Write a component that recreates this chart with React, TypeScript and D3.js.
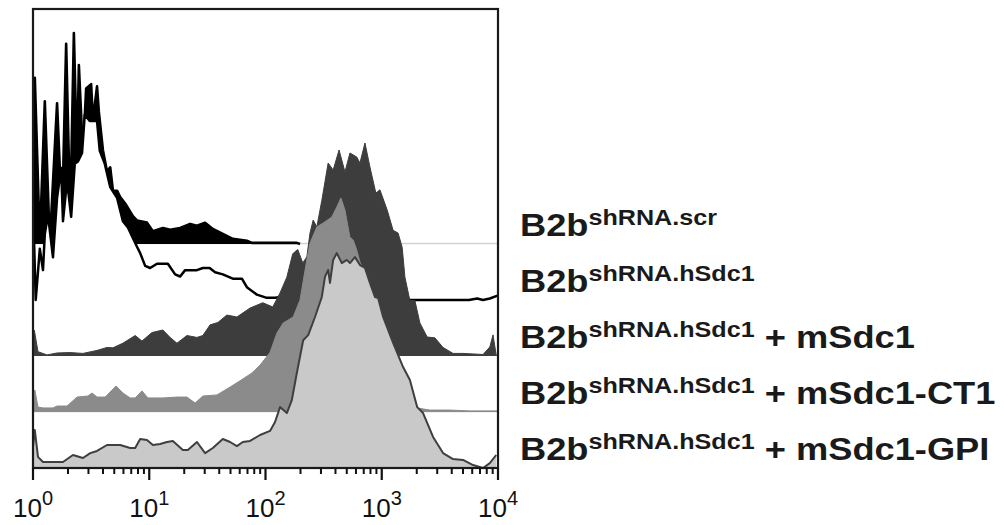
import React from 'react';
import * as d3 from 'd3';

type Pt = [number, number]; // [channel 0-1023 (4 decades), % of max]

const scrData: Pt[] = [
  [0, 0], [2, 40], [4, 78], [15, 1], [26, 67], [37, 0], [53, 66], [64, 11], [73, 94], [82, 12],
  [90, 99], [97, 39], [101, 84], [110, 42], [117, 73], [128, 75], [132, 58], [141, 74], [145, 62],
  [154, 44], [163, 34], [170, 36], [176, 25], [185, 25], [192, 22], [203, 19], [220, 13], [229, 11],
  [251, 10], [264, 6], [286, 7.5], [302, 6.6], [324, 7.5], [346, 9.4], [361, 8.5], [379, 9.9],
  [396, 7], [418, 4.7], [440, 2.4], [471, 1.5], [482, 0.5], [581, 0.5], [588, 0], [1023, 0],
];

const hSdc1Data: Pt[] = [
  [0, 45], [6, 0], [15, 24], [22, 14], [26, 31], [33, 40], [44, 20], [53, 48], [62, 62], [66, 37],
  [75, 56], [84, 39], [92, 64], [99, 65], [108, 69], [114, 87], [125, 84], [132, 84], [141, 84],
  [147, 70], [158, 64], [170, 53], [185, 48], [198, 37], [209, 34], [229, 25], [236, 22], [247, 16],
  [258, 15], [273, 17], [297, 17], [313, 12], [324, 11], [335, 14], [361, 14], [374, 15], [389, 15],
  [401, 13], [418, 12], [440, 10], [460, 10], [471, 6], [493, 2.5], [515, 1], [533, 1], [550, 1.5],
  [588, 3], [620, 6], [660, 7], [700, 6.5], [740, 5], [790, 2], [830, 0], [960, 0], [978, 0.7],
  [991, 0], [1006, 0.7], [1023, 2],
];

const mSdc1Data: Pt[] = [
  [0, 4], [3, 12], [11, 2], [31, 0.5], [53, 1.4], [81, 1.6], [110, 1.2], [141, 2.6], [163, 4],
  [176, 3.8], [198, 6], [225, 9.6], [240, 7], [262, 11], [286, 12.2], [302, 8.7], [317, 6],
  [339, 9.6], [361, 8.7], [374, 9.6], [390, 14.6], [407, 15.7], [427, 19.2], [449, 18.3],
  [478, 22.5], [506, 25], [528, 23], [544, 29.6], [559, 37], [572, 48], [583, 50], [594, 43.7],
  [603, 46.5], [610, 57.7], [617, 63.8], [625, 60.6], [636, 73], [650, 90.6], [661, 87.3],
  [674, 96.7], [687, 86.4], [698, 95.3], [713, 93.4], [720, 90.6], [731, 100], [742, 88.7],
  [755, 76.5], [764, 78], [780, 68.5], [793, 59], [804, 57.7], [813, 51], [819, 37], [830, 26],
  [841, 26], [852, 15.5], [868, 8.9], [885, 8.5], [903, 4], [925, 1.2], [947, 1.2], [991, 0.7],
  [1006, 4.2], [1013, 9.9], [1020, 0.5], [1023, 0],
];

const ct1Data: Pt[] = [
  [0, 3], [4, 10.3], [11, 2.3], [22, 1.9], [44, 1.9], [53, 2.8], [75, 2.8], [97, 7], [121, 7.5],
  [130, 8.9], [141, 7], [159, 7], [183, 12.2], [198, 8.9], [214, 6.6], [225, 6.6], [240, 9.9],
  [253, 6.6], [286, 6.6], [317, 7], [339, 7], [357, 4.2], [374, 7.5], [405, 8], [434, 11.7],
  [462, 15.5], [482, 18.3], [500, 22], [522, 28], [537, 37], [551, 41.8], [573, 44.6], [588, 52.6],
  [603, 71.4], [610, 79.3], [625, 86.9], [639, 88.7], [658, 91.5], [669, 96.2], [678, 100.5],
  [687, 94.8], [698, 82], [705, 80.8], [713, 76], [720, 70.4], [731, 64.3], [742, 57.3], [764, 38.5],
  [786, 24.4], [808, 12.7], [830, 5.6], [846, 1.9], [874, 0.9], [918, 0.9], [962, 0.5], [1023, 0.5],
];

const gpiData: Pt[] = [
  [0, 10], [4, 17.8], [11, 5.2], [22, 2.8], [66, 2.8], [88, 6.1], [110, 4.7], [126, 7], [141, 8],
  [163, 10.8], [192, 10.8], [214, 9.4], [225, 9.4], [236, 13.6], [251, 13.1], [264, 10.8],
  [280, 11.3], [295, 12.2], [308, 12.7], [330, 8.5], [341, 8.5], [361, 12.2], [379, 7], [396, 9.4],
  [418, 13.6], [434, 12.2], [449, 10.3], [462, 12.2], [478, 12.7], [500, 15.5], [522, 17.4],
  [533, 21.6], [544, 28.6], [559, 25.8], [570, 31.9], [581, 44.6], [595, 60], [606, 62.4],
  [621, 70.9], [636, 80.3], [643, 89.7], [650, 93], [654, 86.9], [661, 97.7], [669, 100.9],
  [680, 96.2], [691, 97.7], [698, 96.2], [709, 99], [720, 95.3], [731, 93.9], [742, 86.9],
  [753, 80.3], [760, 79.8], [771, 70.9], [793, 58.7], [815, 47.4], [830, 41.3], [846, 28.6],
  [859, 25.8], [881, 14.6], [903, 7], [925, 4.2], [947, 3.8], [969, 1.4], [991, 0], [1006, 2.3],
  [1020, 6.1],
];

const labelMain = 'B2b';
const labelSup = ['shRNA.scr', 'shRNA.hSdc1', 'shRNA.hSdc1', 'shRNA.hSdc1', 'shRNA.hSdc1'];
const labelSuffix = ['', '', ' + mSdc1', ' + mSdc1-CT1', ' + mSdc1-GPI'];
const decades = [0, 1, 2, 3, 4];

const FONT = '"Liberation Sans", Arial, Helvetica, sans-serif';

export default function App() {
  const left = 33, right = 498, top = 9, bottom = 468;
  const x = d3.scaleLog().domain([1, 1e4]).range([left, right]);
  const y = d3.scaleLinear().domain([0, 215.5]).range([bottom, top]);
  const step = 26.3;
  const chToVal = (ch: number) => Math.pow(10, ch / 256);

  const layers = [
    { data: scrData, fill: '#000', stroke: '#000', sw: 2.6, base: '#d2d2d2' },
    { data: hSdc1Data, fill: '#fff', stroke: '#000', sw: 2.5, base: null },
    { data: mSdc1Data, fill: '#3d3d3d', stroke: '#3d3d3d', sw: 1, base: null },
    { data: ct1Data, fill: '#8b8b8b', stroke: '#8b8b8b', sw: 1, base: '#c4c4c4' },
    { data: gpiData, fill: '#c9c9c9', stroke: '#3f3f3f', sw: 2, base: null },
  ];

  const minor = x.ticks().filter(v => Math.abs(Math.log10(v) - Math.round(Math.log10(v))) > 1e-6);

  return (
    <svg width={1004} height={525} style={{ position: 'absolute', left: 0, top: 0, background: '#fff' }}>
      <defs>
        <clipPath id="plot">
          <rect x={left} y={top} width={right - left} height={bottom - top} />
        </clipPath>
      </defs>
      <g clipPath="url(#plot)">
        {layers.map((l, i) => {
          const off = (4 - i) * step;
          const area = d3.area<Pt>()
            .x(d => x(chToVal(d[0])))
            .y0(y(off))
            .y1(d => y(off + d[1]));
          const line = d3.line<Pt>()
            .defined((d, j, arr) => d[1] > 0 || (j > 0 && arr[j - 1][1] > 0) || (j < arr.length - 1 && arr[j + 1][1] > 0))
            .x(d => x(chToVal(d[0])))
            .y(d => y(off + d[1]));
          return (
            <g key={i}>
              {l.base && (
                <line x1={left} x2={right} y1={y(off) - 0.5} y2={y(off) - 0.5} stroke={l.base} strokeWidth={1.5} />
              )}
              <path d={area(l.data) || ''} fill={l.fill} />
              <path d={line(l.data) || ''} fill="none" stroke={l.stroke} strokeWidth={l.sw} strokeLinejoin="round" />
            </g>
          );
        })}
      </g>

      <rect x={left} y={top} width={right - left} height={bottom - top} fill="none" stroke="#1a1a1a" strokeWidth={2.2} />

      {minor.map(v => (
        <line key={v} x1={x(v)} x2={x(v)} y1={bottom} y2={bottom + 6} stroke="#111" strokeWidth={2} />
      ))}
      {decades.map(k => (
        <line key={k} x1={x(10 ** k)} x2={x(10 ** k)} y1={bottom} y2={bottom + 12} stroke="#111" strokeWidth={2.2} />
      ))}
      {decades.map(k => (
        <text key={k} x={x(10 ** k)} y={517} textAnchor="middle" fontFamily={FONT} fontSize={26} fill="#111">
          10<tspan fontSize={20} dy={-12}>{k}</tspan>
        </text>
      ))}

      {labelSup.map((s, i) => {
        const off = (4 - i) * step;
        return (
          <g key={i} transform={`translate(520, ${y(off) - 8}) scale(1.17, 1)`}>
            <text fontFamily={FONT} fontWeight={700} fontSize={31} fill="#1a1a1a" style={{ whiteSpace: 'pre' }}>
              {labelMain}
              <tspan fontSize={21.5} dy={-11}>{s}</tspan>
              {labelSuffix[i] && <tspan dy={11}>{labelSuffix[i]}</tspan>}
            </text>
          </g>
        );
      })}
    </svg>
  );
}
